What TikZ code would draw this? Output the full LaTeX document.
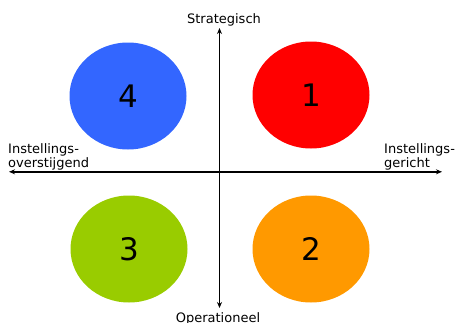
\documentclass[tikz,border=0pt]{standalone}
\usepackage{fontspec}
\setmainfont{DejaVu Sans}
\usetikzlibrary{arrows.meta,shapes.geometric}
\definecolor{cblue}{HTML}{3366FF}
\definecolor{cred}{HTML}{FF0000}
\definecolor{cgreen}{HTML}{99CC00}
\definecolor{corange}{HTML}{FF9900}
\begin{document}
\begin{tikzpicture}[x=1pt,y=-1pt,
  blob/.style={ellipse, minimum width=117pt, minimum height=107pt, inner sep=0pt, font=\fontsize{31}{31}\selectfont},
  axis/.style={line width=1.4pt, -{Stealth[length=6pt,width=5pt]}},
  lbl/.style={font=\fontsize{13}{13.5}\selectfont, inner sep=0pt}]
\useasboundingbox (0,0) rectangle (456,322);
\node[blob, fill=cblue] (q4) at (128,96) {4};
\node[blob, fill=cred] (q1) at (311,95) {1};
\node[blob, fill=cgreen] (q3) at (129,249) {3};
\node[blob, fill=corange] (q2) at (311,249) {2};
\coordinate (c) at (219.5,171.8);
\coordinate (top) at (219.5,28);
\coordinate (bot) at (219.5,308);
\coordinate (lft) at (9,171.8);
\coordinate (rgt) at (442,171.8);
\draw[axis] (c) -- (top);
\draw[axis] (c) -- (bot);
\draw[axis] (c) -- (lft);
\draw[axis] (c) -- (rgt);
\node[lbl, anchor=base] (ts) at (224,23) {Strategisch};
\node[lbl, anchor=base] (tb) at (218,322) {Operationeel};
\node[lbl, anchor=base west, align=left] (tl) at (8,167) {Instellings-\\overstijgend};
\node[lbl, anchor=base west, align=left] (tr) at (384,167) {Instellings-\\gericht};
\end{tikzpicture}
\end{document}
